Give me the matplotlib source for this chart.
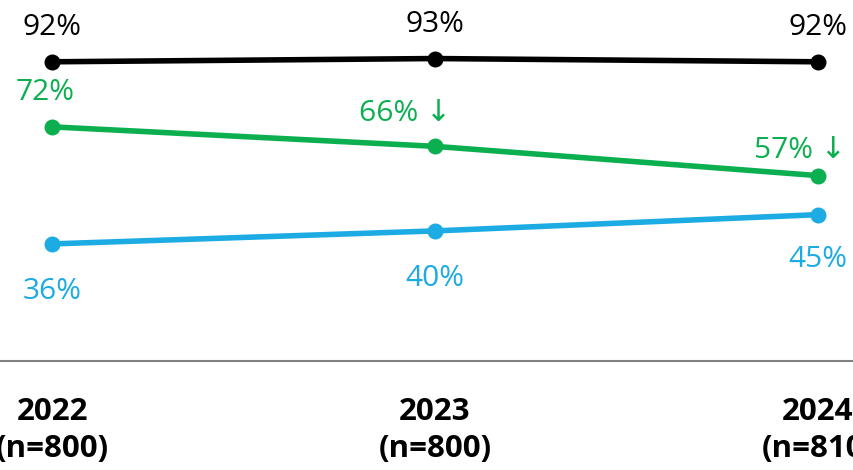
import matplotlib
matplotlib.use("Agg")
import matplotlib.pyplot as plt

years = ["2022", "2023", "2024"]
samples = ["(n=800)", "(n=800)", "(n=810)"]
black_vals = [92, 93, 92]
green_vals = [72, 66, 57]
blue_vals = [36, 40, 45]
green_marks = ["", " ↓", " ↓"]

FONT = ["Open Sans", "DejaVu Sans"]
plt.rcParams["font.family"] = FONT

fig = plt.figure(figsize=(8.54, 4.70), dpi=100)
ax = fig.add_axes([0, 109 / 470, 1, 361 / 470])
x = list(range(len(years)))

C_BLACK = "#000000"
C_GREEN = "#0BAF50"
C_BLUE = "#1DABE3"

for vals, c in [(black_vals, C_BLACK), (green_vals, C_GREEN), (blue_vals, C_BLUE)]:
    ax.plot(x, vals, color=c, lw=4.0, marker="o", ms=10.5, solid_capstyle="round", zorder=3)

fs = 21.5
# label offsets in pixels (style)
black_off = [(0, 27), (0, 27), (0, 27)]
green_off = [(-7, 27), (-76, 25), (-64, 18)]
green_ha = ["center", "left", "left"]
blue_off = [(0, -55), (0, -55), (0, -52)]

for i in x:
    ax.annotate(f"{black_vals[i]}%", (i, black_vals[i]), xytext=black_off[i],
                textcoords="offset pixels", ha="center", va="baseline",
                fontsize=fs, color=C_BLACK)
    ax.annotate(f"{green_vals[i]}%{green_marks[i]}", (i, green_vals[i]), xytext=green_off[i],
                textcoords="offset pixels", ha=green_ha[i], va="baseline",
                fontsize=fs, color=C_GREEN)
    ax.annotate(f"{blue_vals[i]}%", (i, blue_vals[i]), xytext=blue_off[i],
                textcoords="offset pixels", ha="center", va="baseline",
                fontsize=fs, color=C_BLUE)

ax.set_xlim(-0.136, 2.094)
ax.set_ylim(0, 111)
ax.set_yticks([])
ax.set_xticks(x)
ax.set_xticklabels([f"{y}\n{s}" for y, s in zip(years, samples)],
                   fontsize=22.5, fontweight="bold", linespacing=1.3)
ax.tick_params(axis="x", length=0, pad=26)
for s in ["top", "left", "right"]:
    ax.spines[s].set_visible(False)
ax.spines["bottom"].set_color("#808080")
ax.spines["bottom"].set_linewidth(1.5)

fig.savefig("out.png", dpi=100)
